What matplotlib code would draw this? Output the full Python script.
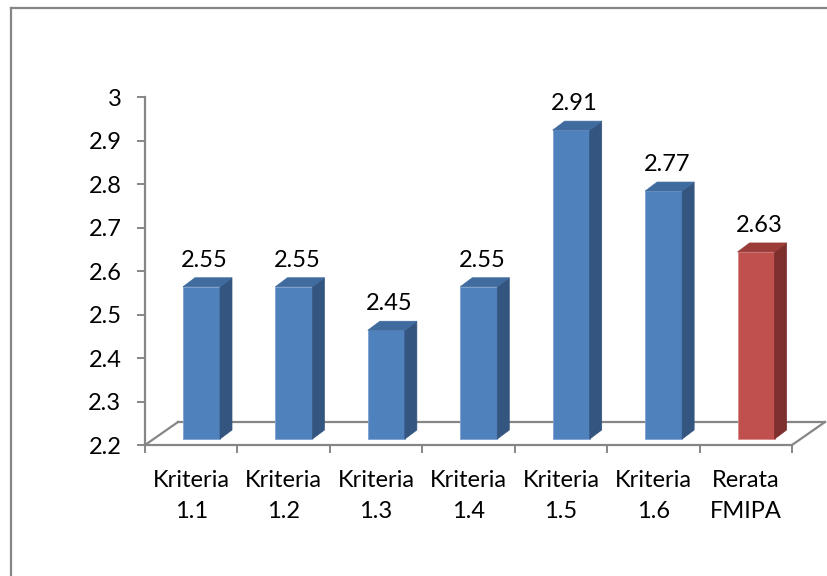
import numpy as np
import matplotlib.pyplot as plt
from matplotlib.lines import Line2D
from matplotlib.patches import Polygon

plt.rcParams['font.family'] = ['Lato', 'DejaVu Sans']

# Data
categories = ['Kriteria\n1.1', 'Kriteria\n1.2', 'Kriteria\n1.3', 'Kriteria\n1.4',
              'Kriteria\n1.5', 'Kriteria\n1.6', 'Rerata\nFMIPA']
values = [2.55, 2.55, 2.45, 2.55, 2.91, 2.77, 2.63]
value_labels = ['2.55', '2.55', '2.45', '2.55', '2.91', '2.77', '2.63']
y_ticks = [2.2, 2.3, 2.4, 2.5, 2.6, 2.7, 2.8, 2.9, 3.0]

# colours (front, side, top)
blue = ('#4F81BD', '#34557F', '#3F6B9F')
red = ('#C0504D', '#7D302E', '#9C3C39')
bar_colors = [blue] * 6 + [red]

axis_gray = '#868686'

fig = plt.figure(figsize=(8.28, 5.76), dpi=100)
ax = fig.add_axes([145 / 828, 1 - 445 / 576, 647 / 828, 348 / 576])
ax.set_xlim(0, 7)
ax.set_ylim(2.2, 3.0)

# pixel -> data helpers
px_x = 1 / 92.43
px_y = 0.8 / 348

# outer frame of the chart area
fig.add_artist(Line2D([11 / 828, 11 / 828], [0, 1 - 8 / 576], color=axis_gray, lw=1.6))
fig.add_artist(Line2D([11 / 828, 1], [1 - 8 / 576, 1 - 8 / 576], color=axis_gray, lw=1.6))

# 3D floor
fx = 33 * px_x
fy = 23 * px_y
floor_kw = dict(color=axis_gray, lw=1.6, clip_on=False, zorder=1)
ax.plot([fx, 7 + fx], [2.2 + fy, 2.2 + fy], **floor_kw)
ax.plot([0, fx], [2.2, 2.2 + fy], **floor_kw)
ax.plot([7, 7 + fx], [2.2, 2.2 + fy], **floor_kw)
ax.fill([0, 7, 7 + fx, fx], [2.2, 2.2, 2.2 + fy, 2.2 + fy], color='white', zorder=0.5, clip_on=False)

# bars
bw = 37 * px_x
off_x = 38 * px_x
off_y = 6 * px_y
dx = 12 * px_x
dy = 9 * px_y
base = 2.2 + off_y
for i, (v, c, lab) in enumerate(zip(values, bar_colors, value_labels)):
    x0 = i + off_x
    x1 = x0 + bw
    top = v + off_y
    front = Polygon([(x0, base), (x1, base), (x1, top), (x0, top)], closed=True,
                    facecolor=c[0], edgecolor='#7FA2D0' if c is blue else '#D98A88', lw=0.6, zorder=3)
    side = Polygon([(x1, base), (x1 + dx, base + dy), (x1 + dx, top + dy), (x1, top)], closed=True,
                   facecolor=c[1], edgecolor=c[1], lw=0.5, zorder=3)
    roof = Polygon([(x0, top), (x1, top), (x1 + dx, top + dy), (x0 + dx, top + dy)], closed=True,
                   facecolor=c[2], edgecolor=c[2], lw=0.5, zorder=3)
    for p in (front, side, roof):
        p.set_clip_on(False)
        ax.add_patch(p)
    ax.text(x0 + bw / 2 + 3 * px_x, top + dy + 7 * px_y, lab, ha='center', va='bottom',
            fontsize=17, color='black', clip_on=False)

# axes styling
for s in ['top', 'right', 'bottom']:
    ax.spines[s].set_visible(False)
ax.spines['left'].set_color(axis_gray)
ax.spines['left'].set_linewidth(1.6)

ax.set_yticks(y_ticks)
ax.set_yticklabels(['%g' % t for t in y_ticks])
ax.tick_params(axis='y', direction='out', length=6, width=1.4, color=axis_gray,
               labelsize=17, pad=11)

ax.set_xticks(np.arange(8))
ax.set_xticklabels([])
ax.set_xticks(np.arange(7) + 0.5, minor=True)
ax.set_xticklabels(categories, minor=True, fontsize=17, linespacing=1.6)
ax.tick_params(axis='x', which='major', direction='out', length=6, width=1.4, color=axis_gray)
ax.tick_params(axis='x', which='minor', length=0, pad=18)

ax.plot([0, 7], [2.2, 2.2], color=axis_gray, lw=1.6, clip_on=False, zorder=1)

fig.savefig('out.png', dpi=100)
